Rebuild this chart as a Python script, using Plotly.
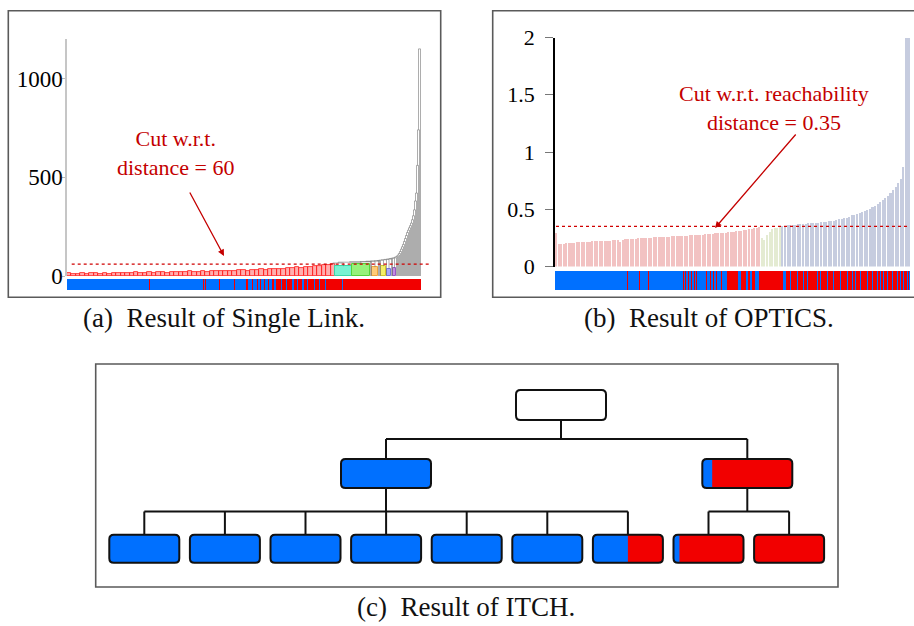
import plotly.graph_objects as go

W, H = 914, 626
SERIF = "Liberation Serif, Times New Roman, serif"

# ---------------- (a) Single Link dendrogram ----------------
# merge heights inside the big mixed cluster, left to right
sl_mixed_heights = [14, 9, 12, 15, 10, 13, 16, 11, 14, 12, 15, 17, 13, 16, 14, 18, 15, 17, 19, 16,
                    18, 20, 17, 19, 22, 18, 21, 23, 20, 22, 24, 21, 25, 23, 26, 24, 27, 25, 28, 30,
                    27, 31, 29, 33, 31, 35, 33, 38, 36, 41, 39, 45, 43, 48, 46, 52, 50, 55, 58, 60]
sl_mixed_leaves = 268

# groups chained onto the big cluster (kind, leaves, own top height, merge height)
sl_group_kind = ["cyan", "green", "single", "single", "orange", "single", "single", "single",
                 "yellow", "single", "violet", "single", "single", "purple"] + ["single"] * 25
sl_group_leaves = [17, 18, 1, 1, 6, 1, 1, 1, 5, 1, 4, 1, 1, 3] + [1] * 25
sl_group_top = [50, 60, 0, 0, 45, 0, 0, 0, 50, 0, 36, 0, 0, 40] + [0] * 25
sl_merge_height = [66, 70, 72, 73, 75, 76, 77, 78, 80, 82, 84, 86, 88, 90,
                   92, 96, 100, 106, 114, 124, 136, 148, 160, 175, 190, 205, 220, 232, 244,
                   255, 268, 285, 305, 335, 380, 420, 560, 740, 1150]

# class of the leaves in dendrogram order (0 = blue class, 1 = red class), run-length coded
sl_strip_class = [0, 1, 0, 1, 0, 1, 0, 1, 0, 1, 0, 1, 0, 1, 0, 1, 0, 1, 0, 1, 0, 1, 0, 1, 0,
                  1, 0, 1, 0, 1, 0, 1, 0, 1, 0, 1, 0, 1, 0, 1, 0, 1, 0, 1, 0, 1]
sl_strip_run = [82, 1, 53, 1, 1, 1, 13, 1, 14, 1, 11, 2, 4, 1, 4, 1, 2, 1, 3, 1, 3, 1, 3, 2, 2,
                5, 1, 4, 1, 5, 2, 3, 1, 4, 2, 3, 1, 6, 1, 4, 1, 5, 1, 16, 1, 78]
cut_single_link = 60

# ---------------- (b) OPTICS reachability plot ----------------
op_red = [0.30, 0.20, 0.20, 0.205, 0.208, 0.21, 0.212, 0.213, 0.215, 0.216,
          0.218, 0.219, 0.22, 0.222, 0.223, 0.224, 0.226, 0.227, 0.228, 0.229,
          0.23, 0.231, 0.233, 0.234, 0.235, 0.222, 0.24, 0.242, 0.244, 0.246,
          0.247, 0.248, 0.25, 0.252, 0.253, 0.254, 0.256, 0.257, 0.258, 0.259,
          0.26, 0.262, 0.263, 0.264, 0.266, 0.267, 0.268, 0.27, 0.271, 0.272,
          0.274, 0.275, 0.276, 0.278, 0.279, 0.28, 0.282, 0.283, 0.285, 0.287,
          0.289, 0.291, 0.293, 0.295, 0.297, 0.299, 0.301, 0.303, 0.305, 0.308,
          0.311, 0.314, 0.317, 0.32, 0.324, 0.328, 0.332, 0.337, 0.342, 0.35]
op_green = [0.25, 0.24, 0.28, 0.31, 0.33, 0.34, 0.345, 0.35]
op_blue = [0.36, 0.362, 0.364, 0.366, 0.368, 0.37, 0.372, 0.374, 0.376, 0.378,
           0.38, 0.381, 0.383, 0.385, 0.387, 0.39, 0.392, 0.395, 0.40, 0.402,
           0.405, 0.41, 0.415, 0.42, 0.425, 0.43, 0.44, 0.45, 0.455, 0.465,
           0.47, 0.48, 0.49, 0.50, 0.51, 0.52, 0.535, 0.55, 0.57, 0.585,
           0.60, 0.62, 0.645, 0.67, 0.70, 0.73, 0.77, 0.87, 2.0, 2.0]
op_strip_class = [0, 1, 0, 1, 0, 1, 0,
                  1, 0, 1, 0, 1, 0, 1, 0, 1, 0, 1,
                  0, 1, 0, 1, 0, 1, 0, 1, 0, 1, 0,
                  1, 0, 1, 0, 1, 0, 1, 0,
                  1, 0,
                  1, 0, 1, 0, 1, 0, 1, 0, 1, 0, 1, 0, 1, 0, 1, 0, 1, 0, 1, 0, 1, 0, 1, 0,
                  1, 0, 1, 0, 1, 0, 1, 0, 1, 0, 1, 0, 1, 0, 1, 0, 1, 0, 1, 0, 1, 0, 1, 0,
                  1, 0, 1, 0]
op_strip_run = [72, 1, 11, 1, 8, 1, 34,
                1, 1, 1, 2, 1, 2, 1, 2, 1, 1, 1,
                9, 1, 3, 1, 2, 1, 2, 1, 4, 1, 5,
                11, 3, 5, 2, 2, 2, 3, 4,
                24, 3,
                4, 1, 6, 1, 5, 1, 3, 1, 9, 1, 2, 1, 6, 1, 5, 1, 6, 1, 6, 1, 4, 1, 2, 1,
                4, 1, 6, 1, 4, 1, 4, 1, 2, 1, 2, 1, 3, 1, 4, 1, 4, 1, 2, 1, 2, 1, 3, 1,
                1, 1]
cut_optics = 0.35

# ---------------- (c) ITCH hierarchy ----------------
# share of the blue class in each node (None = root, drawn empty)
itch_root = None
itch_level1_blue = [1.0, 0.11]
itch_leaf_blue = [1.0, 1.0, 1.0, 1.0, 1.0, 1.0, 0.5, 0.085, 0.0]
itch_leaf_parent = [0, 0, 0, 0, 0, 0, 0, 1, 1]

# ---------------- styles ----------------
BLUE = "#0070FF"
RED = "#F20000"
STRIP_COLORS = [BLUE, RED]
GROUP_STYLE = {
    "cyan": ("#78F2D2", "#3CD6A8"),
    "green": ("#96F27A", "#55D43A"),
    "orange": ("#FFCB78", "#F0A53A"),
    "yellow": ("#F4F06A", "#D2C82A"),
    "violet": ("#A8A8FF", "#7474E6"),
    "purple": ("#C48AE4", "#9656C6"),
}


def px(x):
    return x / W


def py(y):
    return 1 - y / H


fig = go.Figure()

# --- (a) mixed cluster as adjacent outlined links
w_mixed = sl_mixed_leaves / len(sl_mixed_heights)
mixed_x = [(i + 0.5) * w_mixed for i in range(len(sl_mixed_heights))]
fig.add_trace(go.Bar(x=mixed_x, y=sl_mixed_heights, width=[w_mixed] * len(mixed_x),
                     marker=dict(color="rgba(255,110,110,0.55)", line=dict(color="#FF1A1A", width=0.8)),
                     xaxis="x", yaxis="y", hoverinfo="skip"))

# --- (a) small clusters and the chaining links above them
cx, cy = mixed_x[-1], sl_mixed_heights[-1]
pos = sl_mixed_leaves
link_x, link_y = [], []
grp_x, grp_w, grp_h, grp_fill, grp_line = [], [], [], [], []
for kind, n, top, hm in zip(sl_group_kind, sl_group_leaves, sl_group_top, sl_merge_height):
    g = pos + n / 2
    if kind != "single":
        grp_x.append(g)
        grp_w.append(n)
        grp_h.append(top)
        grp_fill.append(GROUP_STYLE[kind][0])
        grp_line.append(GROUP_STYLE[kind][1])
    link_x += [cx, cx, g, g, None]
    link_y += [cy, hm, hm, top, None]
    cx, cy = (cx + g) / 2, hm
    pos += n

fig.add_trace(go.Bar(x=grp_x, y=grp_h, width=grp_w,
                     marker=dict(color=grp_fill, line=dict(color=grp_line, width=1)),
                     xaxis="x", yaxis="y", hoverinfo="skip"))
fig.add_trace(go.Scatter(x=link_x, y=link_y, mode="lines",
                         line=dict(color="#767676", width=0.6),
                         xaxis="x", yaxis="y", hoverinfo="skip"))


def strip_trace(classes, runs, xa, ya):
    centers, widths, colors = [], [], []
    p = 0
    for c, n in zip(classes, runs):
        centers.append(p + n / 2)
        widths.append(n)
        colors.append(STRIP_COLORS[c])
        p += n
    return go.Bar(x=centers, y=[1] * len(runs), width=widths,
                  marker=dict(color=colors, line=dict(width=0)),
                  xaxis=xa, yaxis=ya, hoverinfo="skip")


fig.add_trace(strip_trace(sl_strip_class, sl_strip_run, "x2", "y2"))

# --- (b) reachability bars
n_red, n_green, n_blue = len(op_red), len(op_green), len(op_blue)
n_all = n_red + n_green + n_blue
for vals, start, color in [(op_red, 0, "#F2C2C2"),
                           (op_green, n_red, "#E4EBD2"),
                           (op_blue, n_red + n_green, "#C6CCDF")]:
    fig.add_trace(go.Bar(x=list(range(start, start + len(vals))), y=vals, width=0.62,
                         marker=dict(color=color, line=dict(width=0)),
                         xaxis="x3", yaxis="y3", hoverinfo="skip"))
fig.add_trace(strip_trace(op_strip_class, op_strip_run, "x4", "y4"))

tickfont = dict(family=SERIF, size=22, color="#000")
fig.update_layout(
    width=W, height=H, margin=dict(l=0, r=0, t=0, b=0, pad=0, autoexpand=False), autosize=False,
    paper_bgcolor="white", plot_bgcolor="rgba(0,0,0,0)",
    showlegend=False, barmode="overlay", bargap=0,
    xaxis=dict(domain=[px(67), px(421)], range=[0, sum(sl_strip_run)], visible=False,
               anchor="y", fixedrange=True),
    yaxis=dict(domain=[py(276), py(39)], range=[0, 1200], tickvals=[0, 500, 1000],
               ticks="outside", ticklen=3, tickcolor="#BBBBBB", showline=True,
               linecolor="#C6C6C6", linewidth=1.5, showgrid=False, zeroline=False,
               tickfont=dict(family=SERIF, size=23, color="#000"), anchor="x",
               ticklabelstandoff=-5, automargin=False),
    xaxis2=dict(domain=[px(67), px(421)], range=[0, sum(sl_strip_run)], visible=False, anchor="y2"),
    yaxis2=dict(domain=[py(290), py(279)], range=[0, 1], visible=False, anchor="x2"),
    xaxis3=dict(domain=[px(555), px(910)], range=[-0.5, n_all - 0.5], visible=False, anchor="y3"),
    yaxis3=dict(domain=[py(266.5), py(37.5)], range=[0, 2], tickvals=[0, 0.5, 1, 1.5, 2],
                ticktext=["0", "0.5", "1", "1.5", "2"],
                ticks="outside", ticklen=8, tickcolor="#777777", showline=True,
                linecolor="#000000", linewidth=1.5, showgrid=False, zeroline=False,
                tickfont=tickfont, anchor="x3", ticklabelstandoff=6, automargin=False),
    xaxis4=dict(domain=[px(555), px(910)], range=[0, sum(op_strip_run)], visible=False, anchor="y4"),
    yaxis4=dict(domain=[py(290), py(271)], range=[0, 1], visible=False, anchor="x4"),
)

shapes = []
# panel frames
FRAME = dict(color="#5A5A5A", width=1.6)
shapes.append(dict(type="rect", xref="paper", yref="paper", x0=px(8.3), x1=px(440.7),
                   y0=py(297.3), y1=py(10.7), line=FRAME))
shapes.append(dict(type="rect", xref="paper", yref="paper", x0=px(492.7), x1=px(925),
                   y0=py(297.3), y1=py(10.7), line=FRAME))
shapes.append(dict(type="rect", xref="paper", yref="paper", x0=px(95.7), x1=px(838),
                   y0=py(587), y1=py(364), line=FRAME))

# cut lines
CUT = dict(color="#D00000", width=1.3, dash="dot")
shapes.append(dict(type="line", xref="paper", yref="y", x0=px(71.7), x1=px(431.7),
                   y0=cut_single_link, y1=cut_single_link, line=CUT, layer="above"))
shapes.append(dict(type="line", xref="paper", yref="y3", x0=px(556), x1=px(907),
                   y0=cut_optics, y1=cut_optics, line=CUT, layer="above"))


# --- (c) hierarchy drawn as rounded boxes with class shares
def P(x, y):
    return f"{px(x):.5f},{py(y):.5f}"


def rrect(x0, y0, x1, y1, r):
    return (f"M {P(x0 + r, y0)} L {P(x1 - r, y0)} Q {P(x1, y0)} {P(x1, y0 + r)} "
            f"L {P(x1, y1 - r)} Q {P(x1, y1)} {P(x1 - r, y1)} L {P(x0 + r, y1)} "
            f"Q {P(x0, y1)} {P(x0, y1 - r)} L {P(x0, y0 + r)} Q {P(x0, y0)} {P(x0 + r, y0)} Z")


def left_part(x0, y0, xs, y1, r):
    return (f"M {P(xs, y0)} L {P(x0 + r, y0)} Q {P(x0, y0)} {P(x0, y0 + r)} "
            f"L {P(x0, y1 - r)} Q {P(x0, y1)} {P(x0 + r, y1)} L {P(xs, y1)} Z")


def node(cxn, y0, wdt, hgt, blue_share):
    x0, x1, y1 = cxn - wdt / 2, cxn + wdt / 2, y0 + hgt
    r = 4.5
    out = []
    if blue_share is None:
        out.append(dict(type="path", path=rrect(x0, y0, x1, y1, r), xref="paper", yref="paper",
                        fillcolor="white", line=dict(width=0)))
    else:
        base = BLUE if blue_share >= 1 else RED
        out.append(dict(type="path", path=rrect(x0, y0, x1, y1, r), xref="paper", yref="paper",
                        fillcolor=base, line=dict(width=0)))
        if 0 < blue_share < 1:
            xs = x0 + wdt * blue_share
            out.append(dict(type="path", path=left_part(x0, y0, xs, y1, r), xref="paper",
                            yref="paper", fillcolor=BLUE, line=dict(width=0)))
    out.append(dict(type="path", path=rrect(x0, y0, x1, y1, r), xref="paper", yref="paper",
                    fillcolor="rgba(0,0,0,0)", line=dict(color="#111111", width=2)))
    return out


def seg(x0, y0, x1, y1):
    return dict(type="line", xref="paper", yref="paper", x0=px(x0), y0=py(y0), x1=px(x1), y1=py(y1),
                line=dict(color="#111111", width=2))


ROOT_X, ROOT_Y, ROOT_W = 561, 390, 90
L1_X, L1_Y, L1_W = [386, 747.3], 459, 90
LEAF_X0, LEAF_STEP, LEAF_Y, LEAF_W = 144.3, 80.6, 534.7, 70
BOX_H = 29
BUS1_Y, BUS2_Y = 439, 511.5
leaf_x = [LEAF_X0 + k * LEAF_STEP for k in range(len(itch_leaf_blue))]

shapes.append(seg(ROOT_X, ROOT_Y + BOX_H, ROOT_X, BUS1_Y))
shapes.append(seg(L1_X[0], BUS1_Y, L1_X[-1], BUS1_Y))
for p_i, lx in enumerate(L1_X):
    shapes.append(seg(lx, BUS1_Y, lx, L1_Y))
    kids = [leaf_x[k] for k, par in enumerate(itch_leaf_parent) if par == p_i]
    shapes.append(seg(lx, L1_Y + BOX_H, lx, BUS2_Y))
    shapes.append(seg(min(kids), BUS2_Y, max(kids), BUS2_Y))
    for kx in kids:
        shapes.append(seg(kx, BUS2_Y, kx, LEAF_Y))

shapes += node(ROOT_X, ROOT_Y, ROOT_W, BOX_H + 1, itch_root)
for lx, share in zip(L1_X, itch_level1_blue):
    shapes += node(lx, L1_Y, L1_W, BOX_H, share)
for kx, share in zip(leaf_x, itch_leaf_blue):
    shapes += node(kx, LEAF_Y, LEAF_W, 28, share)

fig.update_layout(shapes=shapes)

# annotations: cut labels, arrows, captions
ANN = "#C40000"
CENTER = dict(xref="paper", yref="paper", xanchor="center", yanchor="middle", showarrow=False)
annotations = [
    dict(text="Cut w.r.t.<br>distance = 60", x=px(175.5), y=py(153), align="center",
         font=dict(family=SERIF, size=22, color=ANN), **CENTER),
    dict(text="Cut w.r.t. reachability<br>distance = 0.35", x=px(773.5), y=py(107.5),
         align="center", font=dict(family=SERIF, size=22, color=ANN), **CENTER),
    dict(text="", x=px(224), y=py(256), xref="paper", yref="paper", showarrow=True,
         ax=189 - 224, ay=191 - 256, arrowhead=2, arrowsize=1, arrowwidth=1.3, arrowcolor=ANN,
         standoff=0),
    dict(text="", x=px(715), y=py(228), xref="paper", yref="paper", showarrow=True,
         ax=797 - 715, ay=133 - 228, arrowhead=2, arrowsize=1, arrowwidth=1.3, arrowcolor=ANN,
         standoff=0),
    dict(text="(a)\u2002Result of Single Link.", x=px(224), y=py(318),
         font=dict(family=SERIF, size=27, color="#111"), **CENTER),
    dict(text="(b)\u2002Result of OPTICS.", x=px(709), y=py(318),
         font=dict(family=SERIF, size=27, color="#111"), **CENTER),
    dict(text="(c)\u2002Result of ITCH.", x=px(466), y=py(607),
         font=dict(family=SERIF, size=27, color="#111"), **CENTER),
]
fig.update_layout(annotations=annotations)

fig.write_html("out.html")
